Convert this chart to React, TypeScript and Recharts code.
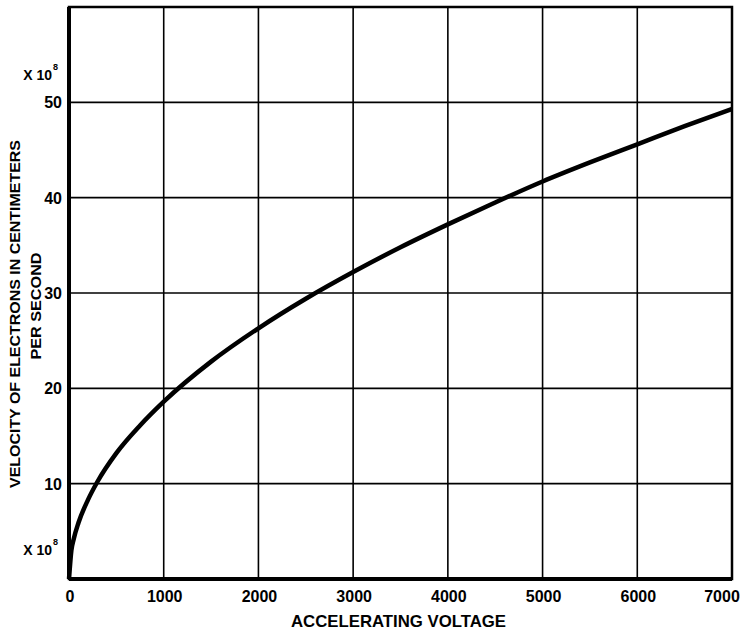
import { LineChart, Line, XAxis, YAxis, CartesianGrid, ReferenceArea } from 'recharts';

// accelerating voltage (V)
const voltage = [0, 25, 50, 100, 200, 300, 500, 750, 1000, 1500, 2000, 2500, 3000, 3500, 4000, 4500, 5000, 5500, 6000, 6500, 7000];
// velocity, x 10^8 cm/s
const velocity = [0, 3, 4.2, 5.9, 8.3, 10.2, 13.2, 16.1, 18.6, 22.8, 26.3, 29.4, 32.2, 34.8, 37.2, 39.5, 41.7, 43.7, 45.6, 47.5, 49.3];

const xTicks = [0, 1000, 2000, 3000, 4000, 5000, 6000, 7000];
const yTicks = [0, 10, 20, 30, 40, 50, 60];
const yLabelled = [10, 20, 30, 40, 50];

const xTitle = 'ACCELERATING VOLTAGE';
const yTitle1 = 'VELOCITY OF ELECTRONS IN CENTIMETERS';
const yTitle2 = 'PER SECOND';

const data = voltage.map((v, i) => ({ v, vel: velocity[i] }));

const FONT = '"Liberation Sans", Arial, sans-serif';

// "X 10^8" multiplier note, drawn as two texts so the exponent sits up and right
function Times10({ x, y }: { x: number; y: number }) {
  return (
    <g fontFamily={FONT} fontWeight="bold" fill="#000">
      <text x={x} y={y} fontSize={14} textAnchor="end">X 10</text>
      <text x={x + 1} y={y - 10} fontSize={9}>8</text>
    </g>
  );
}

function YTick(props: any) {
  const { x, y, payload } = props;
  const val = payload.value;
  return (
    <g>
      {yLabelled.includes(val) && (
        <text x={x} y={y} dy={6} textAnchor="end" fontFamily={FONT} fontWeight="bold" fontSize={16} fill="#000">
          {val}
        </text>
      )}
      {val === 50 && <Times10 x={x - 10} y={y - 22} />}
      {val === 0 && <Times10 x={x - 10} y={y - 24} />}
    </g>
  );
}

function XTick(props: any) {
  const { x, y, payload } = props;
  const last = payload.value === xTicks[xTicks.length - 1];
  return (
    <text x={last ? x - 10 : x + 1} y={y} dy={23} textAnchor="middle" fontFamily={FONT} fontWeight="bold" fontSize={16} fill="#000">
      {payload.value}
    </text>
  );
}

export default function App() {
  return (
    <div style={{ position: 'absolute', left: 0, top: 0, width: 743, height: 631, background: '#fff' }}>
      <LineChart width={743} height={631} data={data} margin={{ top: 7, right: 11, left: 0, bottom: 0 }}>
        <CartesianGrid stroke="#000" strokeWidth={1.6} horizontalValues={yTicks} verticalValues={xTicks} />
        <XAxis
          dataKey="v"
          type="number"
          domain={[0, 7000]}
          ticks={xTicks}
          height={52}
          tickSize={0}
          tickMargin={0}
          axisLine={{ stroke: '#000', strokeWidth: 4 }}
          tick={<XTick />}
          interval={0}
          label={{
            content: (p: any) => {
              const vb = p.viewBox;
              return (
                <text
                  x={vb.x + vb.width / 2 - 2}
                  y={vb.y + 48}
                  textAnchor="middle"
                  fontFamily={FONT}
                  fontWeight="bold"
                  fontSize={17}
                  textLength={215}
                  lengthAdjust="spacingAndGlyphs"
                  fill="#000"
                >
                  {xTitle}
                </text>
              );
            },
          }}
        />
        <YAxis
          type="number"
          domain={[0, 60]}
          ticks={yTicks}
          width={69}
          tickSize={0}
          tickMargin={7}
          axisLine={{ stroke: '#000', strokeWidth: 4 }}
          tick={<YTick />}
          interval={0}
          label={{
            content: (p: any) => {
              const vb = p.viewBox;
              const cy = vb.y + vb.height / 2;
              return (
                <g fontFamily={FONT} fontWeight="bold" fill="#000">
                  <text
                    transform={`translate(20, ${cy + 21}) rotate(-90)`}
                    textAnchor="middle"
                    fontSize={15.5}
                    textLength={348}
                    lengthAdjust="spacingAndGlyphs"
                  >
                    {yTitle1}
                  </text>
                  <text
                    transform={`translate(41, ${cy + 13}) rotate(-90)`}
                    textAnchor="middle"
                    fontSize={15.5}
                    textLength={107}
                    lengthAdjust="spacingAndGlyphs"
                  >
                    {yTitle2}
                  </text>
                </g>
              );
            },
          }}
        />
        <ReferenceArea x1={0} x2={7000} y1={0} y2={60} fill="none" stroke="#000" strokeWidth={2.5} />
        <Line
          dataKey="vel"
          type="monotone"
          stroke="#000"
          strokeWidth={4.5}
          dot={false}
          isAnimationActive={false}
        />
      </LineChart>
    </div>
  );
}
